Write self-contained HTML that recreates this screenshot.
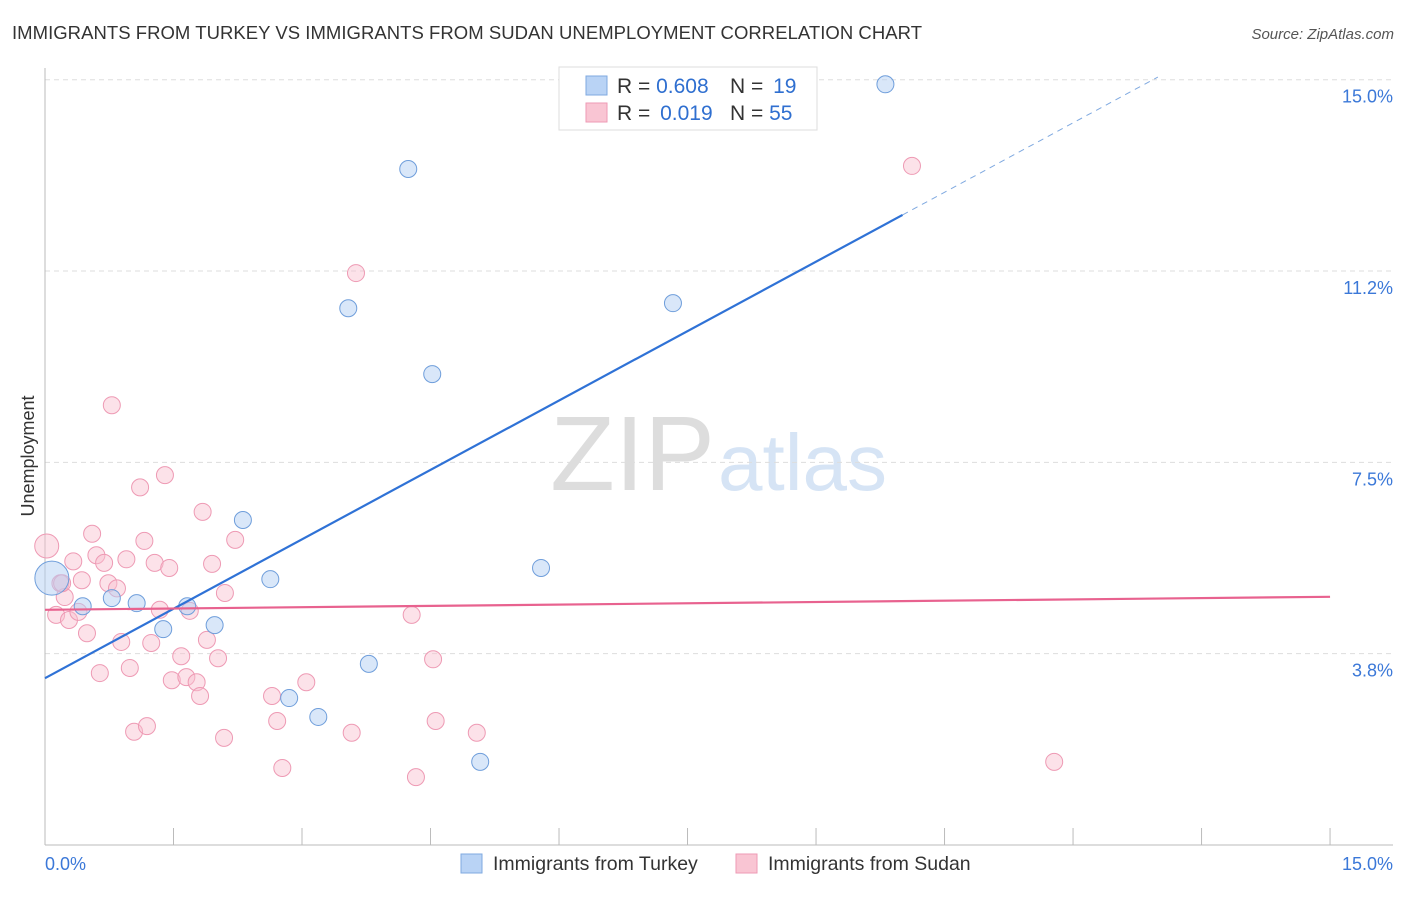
<!DOCTYPE html>
<html><head><meta charset="utf-8">
<style>
body{margin:0;background:#fff;font-family:"Liberation Sans",sans-serif;}
svg text{font-family:"Liberation Sans",sans-serif;}
</style></head>
<body>
<svg id="chart" width="1406" height="892" xmlns="http://www.w3.org/2000/svg">
<text x="12" y="39" font-size="18.5" fill="#333" textLength="910">IMMIGRANTS FROM TURKEY VS IMMIGRANTS FROM SUDAN UNEMPLOYMENT CORRELATION CHART</text>
<text x="1394" y="39" font-size="15" fill="#555" font-style="italic" text-anchor="end">Source: ZipAtlas.com</text>
<text x="715" y="490" font-size="106" fill="#ddd" text-anchor="end" font-family="Liberation Serif">ZIP</text>
<text x="718" y="490" font-size="80" fill="#d6e4f5">atlas</text>
<text transform="translate(34,456) rotate(-90)" font-size="18" fill="#333" text-anchor="middle">Unemployment</text>
<g id="grid"></g>
<g id="marks"></g>
<g>
<rect x="559" y="67" width="258" height="63" fill="#fff" stroke="#ddd"/>
<rect x="586" y="76" width="21" height="19" fill="#b9d3f5" stroke="#7fa9e0"/>
<rect x="586" y="103" width="21" height="19" fill="#f9c5d3" stroke="#ee9ab4"/>
<text x="617" y="93" font-size="21" fill="#333">R = <tspan fill="#2f6fd0">0.608</tspan></text>
<text x="730" y="93" font-size="21" fill="#333">N = <tspan fill="#2f6fd0" dx="4">19</tspan></text>
<text x="617" y="120" font-size="21" fill="#333">R = <tspan fill="#2f6fd0" dx="4">0.019</tspan></text>
<text x="730" y="120" font-size="21" fill="#333">N = <tspan fill="#2f6fd0">55</tspan></text>
</g>
<g>
<rect x="461" y="854" width="21" height="19" fill="#b9d3f5" stroke="#7fa9e0"/>
<text x="493" y="870" font-size="19.5" fill="#333">Immigrants from Turkey</text>
<rect x="736" y="854" width="21" height="19" fill="#f9c5d3" stroke="#ee9ab4"/>
<text x="768" y="870" font-size="19.5" fill="#333">Immigrants from Sudan</text>
</g>
</svg>
<script>
const yTicks=[3.75,7.5,11.25,15];
const yTickLabels=["3.8%","7.5%","11.2%","15.0%"];
const xTicks=[0,1.5,3,4.5,6,7.5,9,10.5,12,13.5,15];
const turkeyX=[0.08,0.44,0.78,1.07,1.38,1.66,1.98,2.31,2.63,2.85,3.19,3.54,3.78,4.24,4.52,5.08,5.79,7.33,9.81];
const turkeyY=[5.23,4.68,4.84,4.74,4.23,4.68,4.31,6.37,5.21,2.88,2.51,10.52,3.55,13.25,9.23,1.63,5.43,10.62,14.91];
const turkeyR=[17,8.5,8.5,8.5,8.5,8.5,8.5,8.5,8.5,8.5,8.5,8.5,8.5,8.5,8.5,8.5,8.5,8.5,8.5];
const sudanX=[0.02,0.18,0.13,0.23,0.28,0.39,0.33,0.43,0.49,0.55,0.6,0.64,0.69,0.74,0.78,0.84,0.89,0.95,0.99,1.04,1.11,1.16,1.19,1.24,1.28,1.34,1.4,1.45,1.48,1.59,1.65,1.69,1.77,1.81,1.84,1.89,1.95,2.02,2.09,2.1,2.22,2.65,2.71,2.77,3.05,3.58,3.63,4.28,4.33,4.53,4.56,5.04,10.12,11.78,0.2];
const sudanY=[5.86,5.13,4.51,4.86,4.41,4.57,5.56,5.19,4.15,6.1,5.68,3.37,5.53,5.13,8.62,5.03,3.98,5.6,3.47,2.22,7.01,5.96,2.33,3.96,5.53,4.61,7.25,5.43,3.23,3.7,3.29,4.59,3.19,2.92,6.53,4.02,5.51,3.66,2.1,4.94,5.98,2.92,2.43,1.51,3.19,2.2,11.21,4.51,1.33,3.64,2.43,2.2,13.31,1.63,5.13];
const turkeyIntercept=3.27, turkeySlope=0.907;
const sudanIntercept=4.61, sudanSlope=0.017;

const NS="http://www.w3.org/2000/svg";
const xs=v=>45+v*85.67, ys=v=>845-v*51.02;
function mk(tag,attrs,parent){const e=document.createElementNS(NS,tag);for(const k in attrs)e.setAttribute(k,attrs[k]);parent.appendChild(e);return e;}
const grid=document.getElementById('grid'), marks=document.getElementById('marks');
yTicks.forEach((t,i)=>{
  const l=mk('line',{x1:45,x2:1393,y1:ys(t),y2:ys(t),stroke:'#ddd','stroke-dasharray':'5,4'},grid);
  
  
  const tx=mk('text',{x:1393,y:ys(t)+23,'font-size':18,fill:'#3b78d8','text-anchor':'end'},grid);
  tx.textContent=yTickLabels[i];
  
  
});
const ya=mk('line',{x1:45,x2:45,y1:68,y2:845,stroke:'#bbb'},grid);


const xa=mk('line',{x1:45,x2:1393,y1:845,y2:845,stroke:'#bbb'},grid);


xTicks.forEach(t=>{
  const l=mk('line',{x1:xs(t),x2:xs(t),y1:828,y2:845,stroke:'#bbb'},grid);
  
  
});
const xl0=mk('text',{x:45,y:870,'font-size':18,fill:'#3b78d8'},grid);xl0.textContent="0.0%";


const xl1=mk('text',{x:1393,y:870,'font-size':18,fill:'#3b78d8','text-anchor':'end'},grid);xl1.textContent="15.0%";



sudanX.forEach((x,i)=>{
  const c=mk('circle',{cx:xs(x),cy:ys(sudanY[i]),r:(i===0?12:8.5),fill:'rgba(249,190,206,0.45)',stroke:'#ee9ab4','stroke-width':1},marks);
  
  
});
turkeyX.forEach((x,i)=>{
  const c=mk('circle',{cx:xs(x),cy:ys(turkeyY[i]),r:turkeyR[i],fill:'rgba(180,207,243,0.5)',stroke:'#6f9edb','stroke-width':1},marks);
  
  
});
const xEndSolid=10.01, xEndDash=12.99;
const tl=mk('line',{x1:xs(0),y1:ys(turkeyIntercept),x2:xs(xEndSolid),y2:ys(turkeyIntercept+turkeySlope*xEndSolid),stroke:'#2f72d6','stroke-width':2.2},marks);


const td=mk('line',{x1:xs(xEndSolid),y1:ys(turkeyIntercept+turkeySlope*xEndSolid),x2:xs(xEndDash),y2:ys(turkeyIntercept+turkeySlope*xEndDash),stroke:'#7fa9e0','stroke-width':1,'stroke-dasharray':'6,5'},marks);


const sl=mk('line',{x1:xs(0),y1:ys(sudanIntercept),x2:xs(15),y2:ys(sudanIntercept+sudanSlope*15),stroke:'#e8628f','stroke-width':2.2},marks);


</script>
</body></html>
